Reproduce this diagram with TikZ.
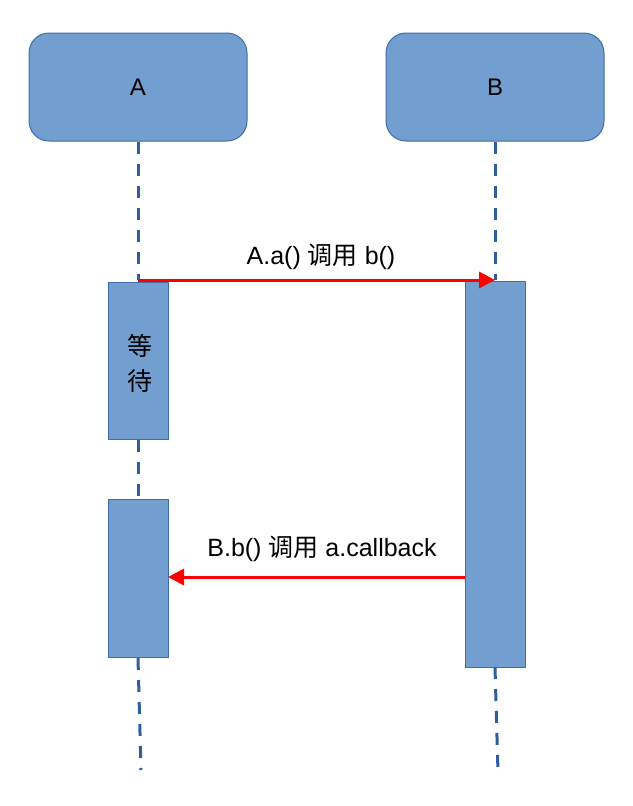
\documentclass[tikz,border=0pt]{standalone}
\usepackage{fontspec}
\setmainfont{Liberation Sans}
\newfontfamily\cjk{Noto Sans CJK SC}
\usetikzlibrary{arrows.meta}
\definecolor{boxfill}{HTML}{729FCF}
\definecolor{boxline}{HTML}{3E6DA8}
\definecolor{lifeline}{HTML}{2F5E9E}
\tikzset{
  actor/.style={draw=boxline, line width=1pt, fill=boxfill, rounded corners=20pt, minimum width=218pt, minimum height=108pt, inner sep=0pt, font=\fontsize{24}{28}\selectfont},
  actbox/.style={draw=boxline, line width=1pt, fill=boxfill, minimum width=60pt, inner sep=0pt},
  lifedash/.style={draw=lifeline, line width=3pt, dash pattern=on 12pt off 10pt},
  msg/.style={draw=red, line width=3pt, -{Triangle[length=16pt,width=16pt]}},
  msglabel/.style={font=\fontsize{25}{30}\selectfont}
}
\begin{document}
\begin{tikzpicture}[x=1pt,y=-1pt]
\useasboundingbox (0,0) rectangle (632,806);
% actors
\node[actor] (A) at (138,87) {A};
\node[actor] (B) at (495,87) {B};
% activation boxes
\node[actbox, minimum height=157pt] (wait) at (138,360.5) {};
\node[font=\fontsize{25}{35}\selectfont\cjk, align=center, inner sep=0pt] (waittext) at (140,363.5) {等\\待};
\node[actbox, minimum height=158pt] (cb) at (138,578) {};
\node[actbox, minimum height=386pt] (bact) at (495,474) {};
% lifeline coordinates
\coordinate (a1) at (138,280);
\coordinate (a2) at (138,658);
\coordinate (a3) at (141,770);
\coordinate (b1) at (495,280);
\coordinate (b2) at (495,667);
\coordinate (b3) at (498,772);
% lifelines
\draw[lifedash] (A.south) -- (a1);
\draw[lifedash] (wait.south) -- (cb.north);
\draw[lifedash] (a2) -- (a3);
\draw[lifedash] (B.south) -- (b1);
\draw[lifedash] (b2) -- (b3);
% messages
\coordinate (m1s) at (138,280);
\coordinate (m1e) at (495,280);
\draw[msg] (m1s) -- (m1e);
\node[msglabel] (l1) at (321,257) {A.a() {\cjk 调用} b()};
\coordinate (m2s) at (465,577);
\coordinate (m2e) at (168,577);
\draw[msg] (m2s) -- (m2e);
\node[msglabel] (l2) at (322,549) {B.b() {\cjk 调用} a.callback};
\end{tikzpicture}
\end{document}
